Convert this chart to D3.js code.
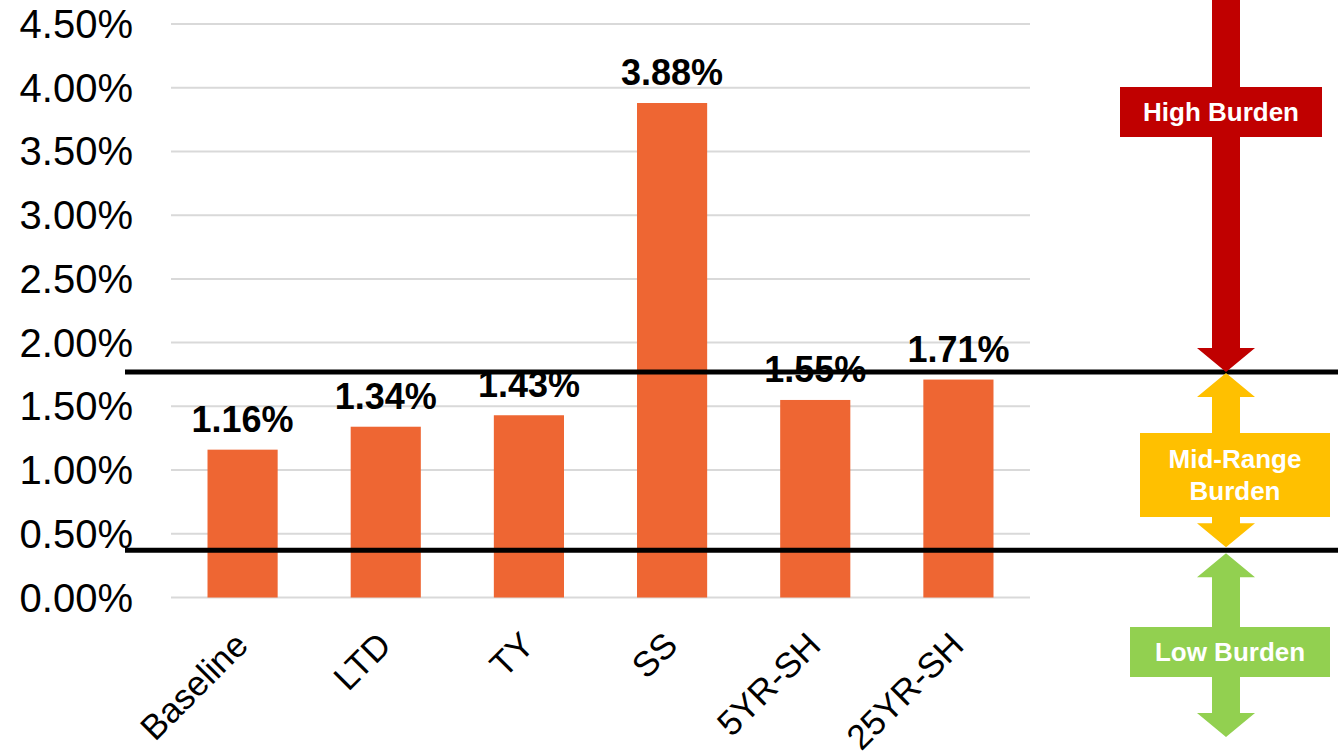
<!DOCTYPE html>
<html>
<head>
<meta charset="utf-8">
<script src="https://cdn.jsdelivr.net/npm/d3@7"></script>
<style>
  body { margin: 0; background: #fff; }
  text { font-family: "Liberation Sans", Arial, sans-serif; }
</style>
</head>
<body>
<div class="chart"></div>
<script>
// data
var categories = ["Baseline", "LTD", "TY", "SS", "5YR-SH", "25YR-SH"];
var values = [1.16, 1.34, 1.43, 3.88, 1.55, 1.71];
var yTicks = [0, 0.5, 1, 1.5, 2, 2.5, 3, 3.5, 4, 4.5];
var thresholds = [0.37, 1.77];   // low / high burden lines
var bands = [
  {name: ["High Burden"], color: "#C00000"},
  {name: ["Mid-Range", "Burden"], color: "#FFC000"},
  {name: ["Low Burden"], color: "#92D050"}
];

var W = 1338, H = 756;

var svg = d3.select(".chart")
  .append("svg")
  .attr("width", W)
  .attr("height", H);

// set the ranges
var x = d3.scaleBand().domain(categories).range([171, 1030]).paddingInner(0.51).paddingOuter(0.255);
var y = d3.scaleLinear().domain([0, 4.5]).range([597.5, 24]);

// gridlines
svg.append("g")
  .selectAll("line")
  .data(yTicks)
  .enter().append("line")
  .attr("x1", 171).attr("x2", 1030)
  .attr("y1", function (d) { return y(d); })
  .attr("y2", function (d) { return y(d); })
  .attr("stroke", "#D9D9D9")
  .attr("stroke-width", 2);

// y axis labels
svg.append("g")
  .selectAll("text")
  .data(yTicks)
  .enter().append("text")
  .attr("x", 133)
  .attr("y", function (d) { return y(d); })
  .attr("dy", "0.35em")
  .attr("text-anchor", "end")
  .attr("font-size", 40)
  .attr("fill", "#000")
  .text(function (d) { return d.toFixed(2) + "%"; });

// bars
svg.append("g")
  .selectAll("rect")
  .data(values)
  .enter().append("rect")
  .attr("x", function (d, i) { return x(categories[i]); })
  .attr("width", x.bandwidth())
  .attr("y", function (d) { return y(d); })
  .attr("height", function (d) { return y(0) - y(d); })
  .attr("fill", "#EE6633");

// value labels
svg.append("g")
  .selectAll("text")
  .data(values)
  .enter().append("text")
  .attr("x", function (d, i) { return x(categories[i]) + x.bandwidth() / 2; })
  .attr("y", function (d) { return y(d) - 18; })
  .attr("text-anchor", "middle")
  .attr("font-size", 36)
  .attr("font-weight", "bold")
  .attr("fill", "#000")
  .text(function (d) { return d.toFixed(2) + "%"; });

// category labels, rotated
svg.append("g")
  .selectAll("text")
  .data(categories)
  .enter().append("text")
  .attr("transform", function (d) {
    return "translate(" + (x(d) + x.bandwidth() / 2 - 10) + "," + 630 + ") rotate(-45)";
  })
  .attr("text-anchor", "end")
  .attr("dy", "0.7em")
  .attr("font-size", 35)
  .attr("fill", "#000")
  .text(function (d) { return d; });

// threshold lines
svg.append("g")
  .selectAll("line")
  .data(thresholds)
  .enter().append("line")
  .attr("x1", 125).attr("x2", W)
  .attr("y1", function (d) { return y(d); })
  .attr("y2", function (d) { return y(d); })
  .attr("stroke", "#000")
  .attr("stroke-width", 5);

// burden arrows on the right
var cx = 1226, shaft = 14, head = 29, headLen = 24;
var yHi = y(thresholds[1]), yLo = y(thresholds[0]);

function arrowPath(top, bottom, upHead, downHead) {
  var p = d3.path();
  var t = upHead ? top + headLen : top;
  var b = downHead ? bottom - headLen : bottom;
  p.moveTo(cx - shaft, t);
  if (upHead) { p.lineTo(cx - head, t); p.lineTo(cx, top); p.lineTo(cx + head, t); }
  p.lineTo(cx + shaft, t);
  p.lineTo(cx + shaft, b);
  if (downHead) { p.lineTo(cx + head, b); p.lineTo(cx, bottom); p.lineTo(cx - head, b); }
  p.lineTo(cx - shaft, b);
  p.closePath();
  return p.toString();
}

var arrows = [
  {top: 0, bottom: yHi, up: false, down: true, box: [1120, 87, 202, 50]},
  {top: yHi + 1, bottom: yLo - 3, up: true, down: true, box: [1140, 433, 190, 84]},
  {top: yLo + 3, bottom: 737, up: true, down: true, box: [1130, 627, 200, 50]}
];

var ag = svg.append("g")
  .selectAll("g")
  .data(arrows)
  .enter().append("g");

ag.append("path")
  .attr("d", function (d) { return arrowPath(d.top, d.bottom, d.up, d.down); })
  .attr("fill", function (d, i) { return bands[i].color; });

ag.append("rect")
  .attr("x", function (d) { return d.box[0]; })
  .attr("y", function (d) { return d.box[1]; })
  .attr("width", function (d) { return d.box[2]; })
  .attr("height", function (d) { return d.box[3]; })
  .attr("fill", function (d, i) { return bands[i].color; });

ag.each(function (d, i) {
  var lines = bands[i].name;
  var g = d3.select(this);
  var mid = d.box[1] + d.box[3] / 2;
  lines.forEach(function (s, j) {
    g.append("text")
      .attr("x", d.box[0] + d.box[2] / 2)
      .attr("y", mid + (j - (lines.length - 1) / 2) * 32)
      .attr("dy", "0.36em")
      .attr("text-anchor", "middle")
      .attr("font-size", 26)
      .attr("font-weight", "bold")
      .attr("fill", "#fff")
      .text(s);
  });
});
</script>
</body>
</html>
